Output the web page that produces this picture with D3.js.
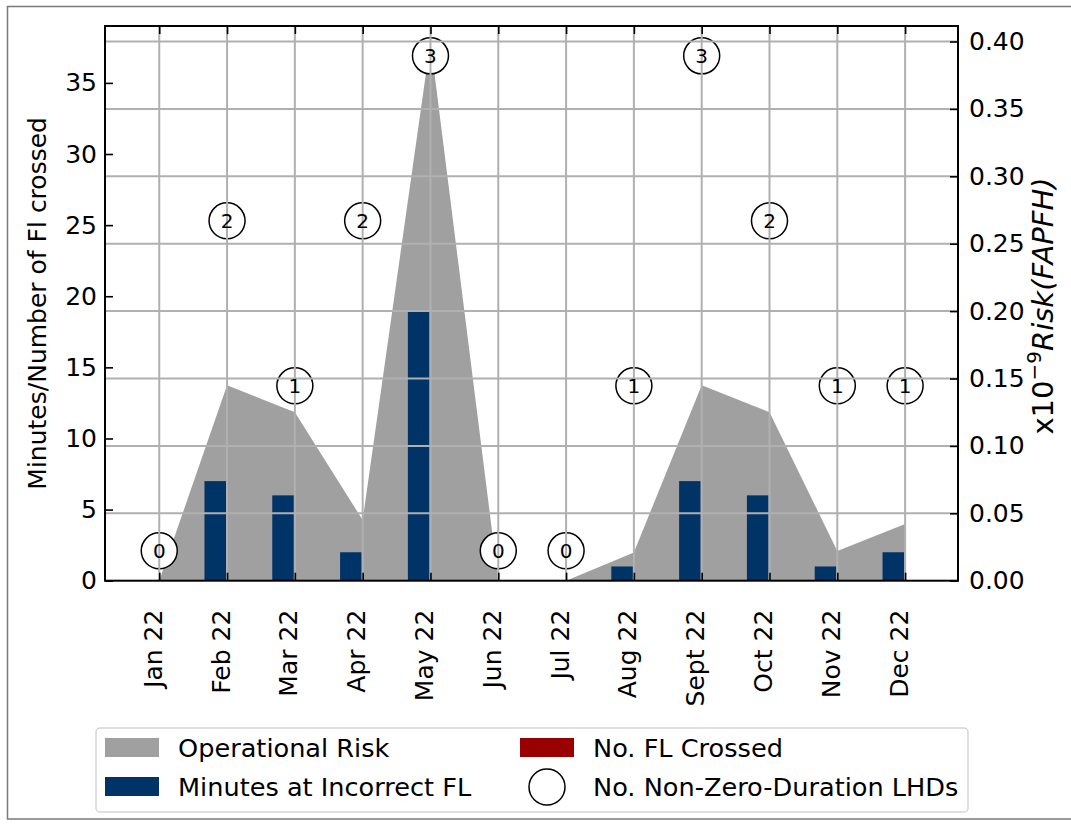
<!DOCTYPE html>
<html>
<head>
<meta charset="utf-8">
<script src="https://cdn.jsdelivr.net/npm/d3@7"></script>
<style>
  body { margin: 0; background: #fff; }
  text { font-family: "DejaVu Sans", sans-serif; }
</style>
</head>
<body>
<script>
'use strict';

// months on the x axis
const months = ["Jan 22", "Feb 22", "Mar 22", "Apr 22", "May 22", "Jun 22",
  "Jul 22", "Aug 22", "Sept 22", "Oct 22", "Nov 22", "Dec 22"];
// right axis, x10^-9 FAPFH
const operationalRisk = [0, 0.145, 0.125, 0.045, 0.40, 0, 0, 0.021, 0.145, 0.125, 0.022, 0.042];
// left axis
const minutesIncorrectFL = [0, 7, 6, 2, 19, 0, 0, 1, 7, 6, 1, 2];
const flCrossed = [0, 0, 0, 0, 0, 0, 0, 0, 0, 0, 0, 0];
// number of non-zero-duration LHDs (circles)
const lhdCounts = [0, 2, 1, 2, 3, 0, 0, 1, 3, 2, 1, 1];

const leftTicks = [0, 5, 10, 15, 20, 25, 30, 35];
const rightTicks = [0, 0.05, 0.10, 0.15, 0.20, 0.25, 0.30, 0.35, 0.40];

const legendItems = [
  {label: "Operational Risk", type: "patch", color: "#a0a0a0"},
  {label: "Minutes at Incorrect FL", type: "patch", color: "#003366"},
  {label: "No. FL Crossed", type: "patch", color: "#990000"},
  {label: "No. Non-Zero-Duration LHDs", type: "circle"}
];

const W = 1071, H = 825;
const plot = {left: 105, right: 958, top: 26, bottom: 580.7};
const fontSize = 25;
const gridColor = "#b0b0b0";

const svg = d3.select("body").append("svg")
  .attr("width", W)
  .attr("height", H);

// outer frame of the figure
svg.append("rect")
  .attr("x", 7.5).attr("y", 6.5)
  .attr("width", 1100).attr("height", 812.5)
  .attr("fill", "none")
  .attr("stroke", "#7a7a7a")
  .attr("stroke-width", 1.5);

const idx = months.map((m, i) => i);

const x = d3.scaleLinear().domain([-0.8, 11.78]).range([plot.left, plot.right]);
const yLeft = d3.scaleLinear().domain([0, 39]).range([plot.bottom, plot.top]);
const yRight = d3.scaleLinear().domain([0, 0.4115]).range([plot.bottom, plot.top]);
// circles sit on their own vertical scale
const yLhd = d3.scaleLinear().domain([0, 3]).range([yLeft(2.1), yLeft(36.9)]);

// operational risk area
const area = d3.area()
  .x((d, i) => x(i))
  .y0(yRight(0))
  .y1(d => yRight(d));

svg.append("path")
  .datum(operationalRisk)
  .attr("fill", "#a0a0a0")
  .attr("d", area);

// minutes bars (left of the tick) and FL crossed bars (right of the tick)
const barW = 0.333;
svg.selectAll(".bar-min")
  .data(minutesIncorrectFL)
  .enter().append("rect")
  .attr("class", "bar-min")
  .attr("x", (d, i) => x(i - barW))
  .attr("width", (d, i) => x(i) - x(i - barW) - 1)
  .attr("y", d => yLeft(d))
  .attr("height", d => yLeft(0) - yLeft(d))
  .attr("fill", "#003366");

svg.selectAll(".bar-fl")
  .data(flCrossed)
  .enter().append("rect")
  .attr("class", "bar-fl")
  .attr("x", (d, i) => x(i))
  .attr("width", (d, i) => x(i + barW) - x(i))
  .attr("y", d => yLeft(d))
  .attr("height", d => yLeft(0) - yLeft(d))
  .attr("fill", "#990000");

// circle markers
svg.selectAll(".lhd")
  .data(lhdCounts)
  .enter().append("circle")
  .attr("class", "lhd")
  .attr("cx", (d, i) => x(i))
  .attr("cy", d => yLhd(d))
  .attr("r", 18)
  .attr("fill", "#fff")
  .attr("stroke", "#000")
  .attr("stroke-width", 1.5);

// grid on top
const grid = svg.append("g")
  .attr("stroke", gridColor)
  .attr("stroke-width", 2);
grid.selectAll(".vg")
  .data(idx)
  .enter().append("line")
  .attr("x1", d => x(d)).attr("x2", d => x(d))
  .attr("y1", plot.top).attr("y2", plot.bottom);
grid.selectAll(".hg")
  .data(rightTicks.filter(t => t > 0))
  .enter().append("line")
  .attr("x1", plot.left).attr("x2", plot.right)
  .attr("y1", d => yRight(d)).attr("y2", d => yRight(d));

svg.selectAll(".lhd-text")
  .data(lhdCounts)
  .enter().append("text")
  .attr("x", (d, i) => x(i))
  .attr("y", d => yLhd(d))
  .attr("dy", "0.36em")
  .attr("text-anchor", "middle")
  .style("font-size", "20px")
  .text(d => d);

// axes
function styleAxis(g) {
  g.select(".domain").remove();
  g.selectAll(".tick line").attr("stroke", "#000").attr("stroke-width", 1.6);
  g.selectAll(".tick text")
    .attr("fill", "#000")
    .style("font-family", "'DejaVu Sans', sans-serif")
    .style("font-size", fontSize + "px");
}

svg.append("g")
  .attr("transform", "translate(" + plot.left + ",0)")
  .call(d3.axisLeft(yLeft).tickValues(leftTicks).tickSizeInner(-8).tickSizeOuter(0).tickPadding(8))
  .call(styleAxis);

svg.append("g")
  .attr("transform", "translate(" + plot.right + ",0)")
  .call(d3.axisRight(yRight).tickValues(rightTicks).tickFormat(d3.format(".2f"))
    .tickSizeInner(-8).tickSizeOuter(0).tickPadding(11))
  .call(styleAxis);

svg.append("g")
  .attr("transform", "translate(0," + plot.top + ")")
  .call(d3.axisTop(x).tickValues(idx).tickFormat("").tickSizeInner(-8).tickSizeOuter(0))
  .call(styleAxis);

const xAxisG = svg.append("g")
  .attr("transform", "translate(0," + plot.bottom + ")")
  .call(d3.axisBottom(x).tickValues(idx).tickFormat(i => months[i]).tickSizeInner(-8).tickSizeOuter(0))
  .call(styleAxis);

xAxisG.selectAll(".tick text")
  .attr("text-anchor", "end")
  .attr("y", 0)
  .attr("dy", 0)
  .attr("transform", "translate(2,29) rotate(-90)");

// spines
svg.append("rect")
  .attr("x", plot.left).attr("y", plot.top)
  .attr("width", plot.right - plot.left)
  .attr("height", plot.bottom - plot.top)
  .attr("fill", "none")
  .attr("stroke", "#000")
  .attr("stroke-width", 2);

// axis labels
svg.append("text")
  .attr("transform", "translate(46," + (plot.top + plot.bottom) / 2 + ") rotate(-90)")
  .attr("text-anchor", "middle")
  .style("font-size", fontSize + "px")
  .text("Minutes/Number of Fl crossed");

const rLabel = svg.append("text")
  .attr("transform", "translate(1053,306) rotate(-90)")
  .attr("text-anchor", "middle")
  .style("font-size", "29px");
rLabel.append("tspan").text("x10");
rLabel.append("tspan").attr("dy", -12).style("font-size", "20px").text("\u22129");
rLabel.append("tspan").attr("dy", 12).style("font-style", "italic").text("Risk(FAPFH)");

// legend
const legend = svg.append("g");
legend.append("rect")
  .attr("x", 96).attr("y", 728)
  .attr("width", 872).attr("height", 84)
  .attr("rx", 4)
  .attr("fill", "#fff")
  .attr("stroke", "#d5d5d5")
  .attr("stroke-width", 1.5);

const colX = [132, 547];
const rowY = [748, 787];
legendItems.forEach((item, k) => {
  const cx = colX[Math.floor(k / 2)];
  const cy = rowY[k % 2];
  if (item.type === "patch") {
    legend.append("rect")
      .attr("x", cx - 27).attr("y", cy - 10)
      .attr("width", 54).attr("height", 19)
      .attr("fill", item.color);
  } else {
    legend.append("circle")
      .attr("cx", cx).attr("cy", cy)
      .attr("r", 18)
      .attr("fill", "#fff")
      .attr("stroke", "#000")
      .attr("stroke-width", 1.5);
  }
  legend.append("text")
    .attr("x", cx + 46)
    .attr("y", cy + 9)
    .style("font-size", "25.6px")
    .text(item.label);
});
</script>
</body>
</html>
